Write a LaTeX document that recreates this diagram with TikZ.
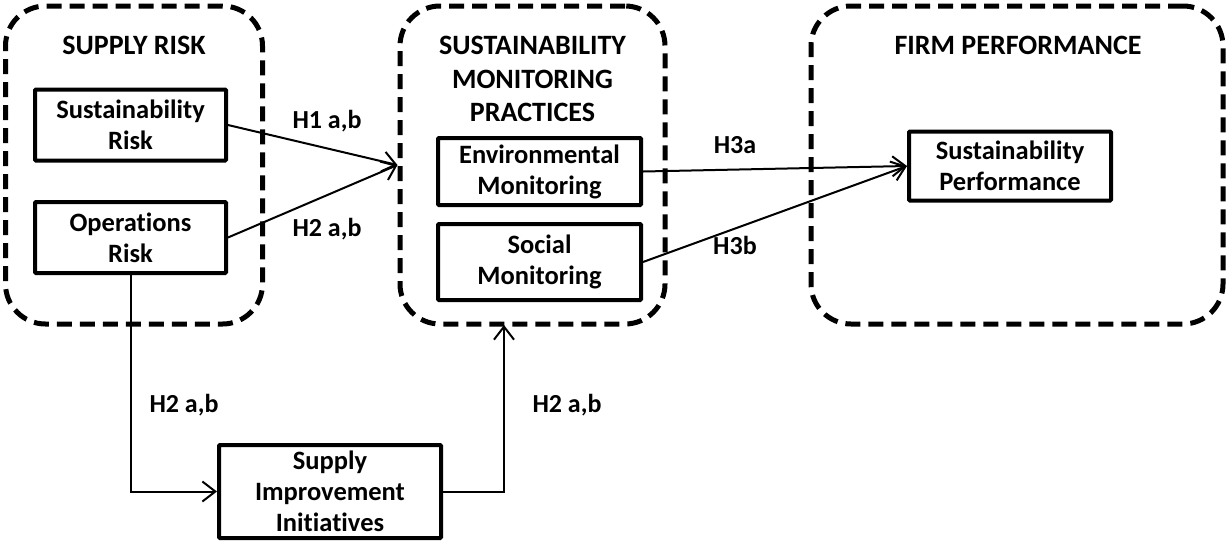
\documentclass[tikz,border=0pt]{standalone}
\usepackage{fontspec}
\setmainfont{Carlito}[Ligatures=NoCommon]
\usetikzlibrary{arrows.meta}
\begin{document}
\begin{tikzpicture}[x=1pt,y=-1pt,
  group/.style={draw, line width=5pt, dash pattern=on 15pt off 8pt, rounded corners=40pt, inner sep=0pt},
  title/.style={font=\bfseries\fontsize{28}{33.5}\selectfont, align=center, inner sep=0pt},
  box/.style={draw, line width=4pt, rounded corners=1pt, align=center, font=\bfseries\fontsize{26.5}{31}\selectfont, inner sep=0pt},
  lab/.style={font=\bfseries\fontsize{26}{30}\selectfont, inner sep=0pt},
  conn/.style={line width=2pt, -{Straight Barb[length=13pt,width=20pt,line width=2pt]}}]
\useasboundingbox (0,0) rectangle (1228,542);
% groups
\node[group, minimum width=257pt, minimum height=318pt] (g1) at (134,165) {};
\node[group, minimum width=265pt, minimum height=318pt] (g2) at (532.5,165) {};
\node[group, minimum width=412pt, minimum height=318pt] (g3) at (1017,165) {};
% titles
\node[title] (t1) at (134,45) {SUPPLY RISK};
\node[title] (t2) at (532.5,79) {SUSTAINABILITY\\MONITORING\\PRACTICES};
\node[title] (t3) at (1018,45) {FIRM PERFORMANCE};
% boxes
\node[box, minimum width=191pt, minimum height=71pt] (sr) at (130.5,125) {Sustainability\\Risk};
\node[box, minimum width=191pt, minimum height=71pt] (or) at (130.5,237.5) {Operations\\Risk};
\node[box, minimum width=203pt, minimum height=67pt] (em) at (539.5,171.5) {Environmental\\Monitoring};
\node[box, minimum width=203pt, minimum height=76pt] (sm) at (539.5,262) {Social\\Monitoring};
\node[box, minimum width=202pt, minimum height=69pt] (sp) at (1010,166) {Sustainability\\Performance};
\node[box, minimum width=222pt, minimum height=93pt] (si) at (330,491.5) {Supply\\Improvement\\Initiatives};
\coordinate (g2in) at (504,325);
% connectors
\draw[conn] (sr.east) -- (g2.west);
\draw[conn] (or.east) -- (g2.west);
\draw[conn] (em.east) -- (sp.west);
\draw[conn] (sm.east) -- (sp.west);
\draw[conn] (or.south) |- (si.west);
\draw[conn] (si.east) -| (g2in);
% labels
\node[lab] (l1) at (327,121) {H1 a,b};
\node[lab] (l2) at (327,229) {H2 a,b};
\node[lab] (l3) at (735,145) {H3a};
\node[lab] (l4) at (735,245) {H3b};
\node[lab] (l5) at (184,405) {H2 a,b};
\node[lab] (l6) at (567,405) {H2 a,b};
\end{tikzpicture}
\end{document}
